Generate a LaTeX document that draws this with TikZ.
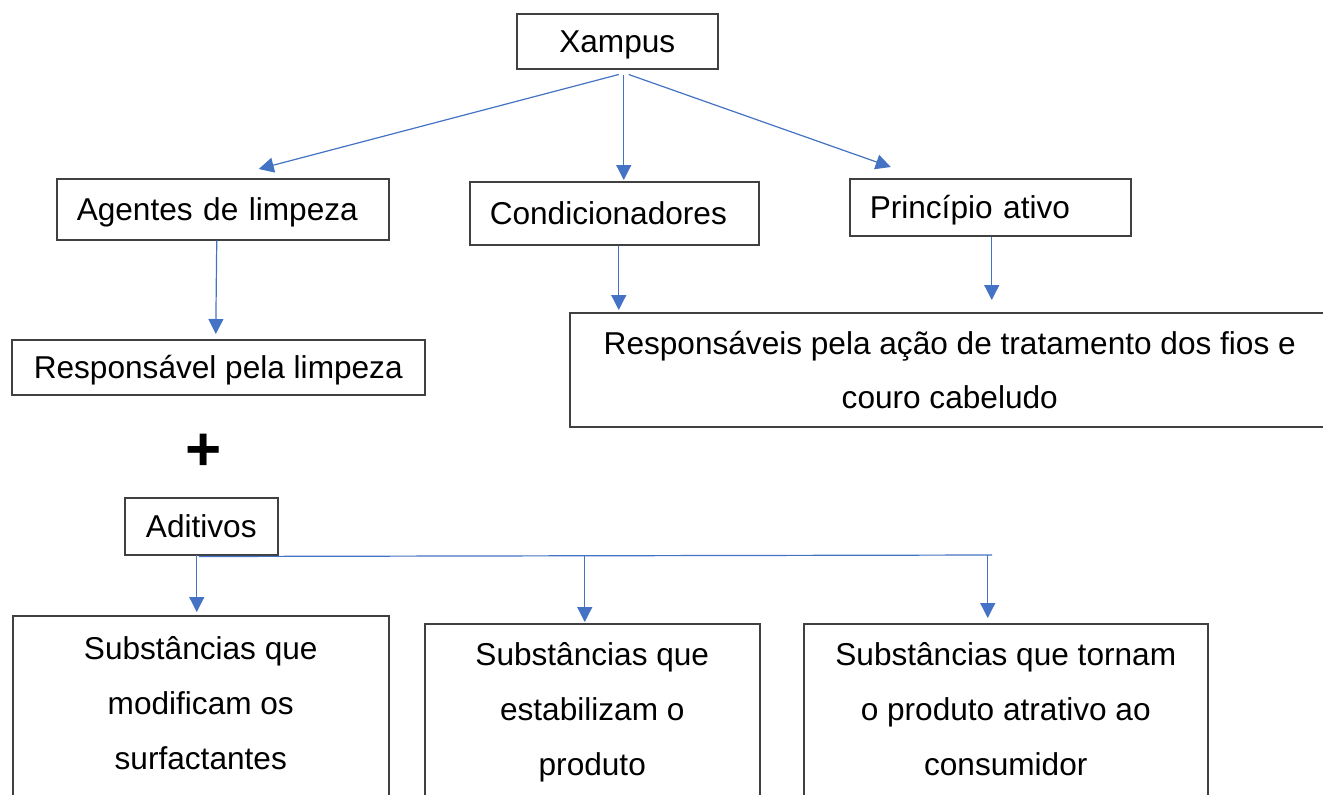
\documentclass[tikz,border=0pt]{standalone}
\usepackage{fontspec}
\setmainfont{Liberation Sans}
\usetikzlibrary{arrows.meta,calc}
\definecolor{arrowblue}{HTML}{4472C4}
\definecolor{boxline}{HTML}{404040}
\begin{document}
\begin{tikzpicture}[x=0.5pt,y=-0.5pt,
  txt/.style={font=\fontsize{15.8}{27.5}\selectfont},
  box/.style={txt,draw=boxline,line width=0.75pt,rectangle,inner sep=0pt,anchor=north west},
  sbox/.style={box,text height=11.3pt,text depth=0pt},
  lbox/.style={sbox,align=left,inner xsep=10pt},
  arr/.style={draw=arrowblue,line width=0.6pt,-{Triangle[length=7.5pt,width=7.5pt]}},
  busline/.style={draw=arrowblue,line width=0.6pt}]
\useasboundingbox (0,0) rectangle (1323,794);
\clip (0,0) rectangle (1323,794);
\fill[white] (0,0) rectangle (1323,794);

\node[sbox,minimum width=100.5pt,minimum height=27.5pt] (X) at (516,13) {Xampus};
\node[lbox,text width=146pt,minimum height=30.5pt] (A) at (56,178) {Agentes de limpeza};
\node[lbox,text width=124.5pt,minimum height=31.5pt] (C) at (469,181) {Condicionadores};
\node[lbox,text width=120.5pt,minimum height=28.5pt] (P) at (849,178) {Princípio ativo};
\node[box,text height=11.3pt,text depth=-4pt,minimum width=206.5pt,minimum height=27.5pt] (R1) at (11,339) {Responsável pela limpeza};
\node[box,align=center,minimum width=380pt,minimum height=57pt,font=\fontsize{15.8}{27}\selectfont] (R2) at (569,312)
  {Responsáveis pela ação de tratamento dos fios e\\couro cabeludo};
\node[font=\fontsize{31}{31}\selectfont\bfseries,inner sep=0pt] (plus) at (204,452) {+};
\node[sbox,minimum width=76.5pt,minimum height=28.5pt] (Ad) at (124,497) {Aditivos};
\node[box] (S1) at (12,615) {\parbox[c][107.5pt][t]{188pt}{\centering\vspace*{2.5pt}\strut Substâncias que\\modificam os\\surfactantes}};
\node[box] (S2) at (424,623) {\parbox[c][103.5pt][t]{167.5pt}{\centering\vspace*{1.5pt}\strut Substâncias que\\estabilizam o\\produto}};
\node[box] (S3) at (803,623) {\parbox[c][103.5pt][t]{202pt}{\centering\vspace*{1.5pt}\strut Substâncias que tornam\\o produto atrativo ao\\consumidor}};

\draw[arr] ([shift={(1.5,5)}]X.south) -- ([shift={(36,-9)}]A.north);
\draw[arr] ([shift={(6.5,5)}]X.south) -- ([shift={(9.5,-1)}]C.north);
\draw[arr] ([shift={(11.5,5)}]X.south) -- ([shift={(-99.5,-11)}]P.north);
\draw[arr] ([shift={(-6,0)}]A.south) -- ([shift={(-2.5,-5)}]R1.north);
\draw[arr] ([shift={(4.5,0)}]C.south) -- ([shift={(-331,-2)}]R2.north);
\draw[arr] ([shift={(1.5,0)}]P.south) -- ([shift={(42,-12)}]R2.north);

\coordinate (bus) at (992,555);
\draw[busline] ([shift={(-2.5,1)}]Ad.south) -- (bus);
\coordinate (t1) at ([shift={(-4,-3)}]S1.north);
\coordinate (t2) at ([shift={(-7.5,-1)}]S2.north);
\coordinate (t3) at ([shift={(-18,-5)}]S3.north);
\draw[arr] (t1 |- bus) -- (t1);
\draw[arr] (t2 |- bus) -- (t2);
\draw[arr] (t3 |- bus) -- (t3);
\end{tikzpicture}
\end{document}
